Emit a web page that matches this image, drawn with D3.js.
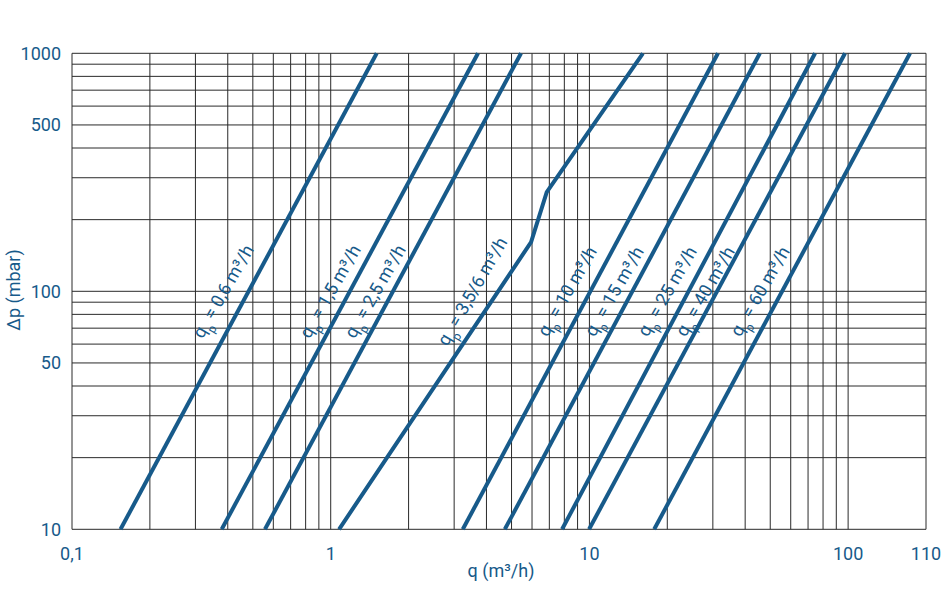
<!DOCTYPE html>
<html>
<head>
<meta charset="utf-8">
<script src="https://cdn.jsdelivr.net/npm/d3@7"></script>
<style>
  body { margin: 0; background: #fff; }
  svg text { font-family: Roboto, "Open Sans", sans-serif; fill: #175a8a; }
</style>
</head>
<body>
<div id="chart"></div>
<script>
// curve names (nominal flow qp)
const curveNames = ["0,6", "1,5", "2,5", "3,5/6", "10", "15", "25", "40", "60"];

// flow values (m3/h) read at the curve points
const curveQ = [
    [0.154, 1.506],
    [0.379, 3.71],
    [0.557, 5.44],
    [1.077, 5.95, 6.84, 16.1],
    [3.24, 31.4],
    [4.71, 45.6],
    [7.84, 74.5],
    [9.97, 97.3],
    [17.8, 173.5]
];

// pressure loss (mbar) for the same points
const curveDp = [
    [10, 1000],
    [10, 1000],
    [10, 1000],
    [10, 161, 261, 1000],
    [10, 1000],
    [10, 1000],
    [10, 1000],
    [10, 1000],
    [10, 1000]
];

// where each curve label sits (flow value at 100 mbar)
const labelQ = [0.3835, 0.994, 1.484, 3.52, 8.19, 12.45, 19.95, 27.99, 45.6];

const xTickValues = [0.1, 1, 10, 100, 200];
const xTickLabels = ["0,1", "1", "10", "100", "110"];
const yTickValues = [10, 50, 100, 500, 1000];
const yTickLabels = ["10", "50", "100", "500", "1000"];

// grid lines
const xGrid = [0.1, 0.2, 0.3, 0.4, 0.5, 0.6, 0.7, 0.8, 0.9, 1, 2, 3, 4, 5, 6, 7, 8, 9, 10,
    20, 30, 40, 50, 60, 70, 80, 90, 100, 200];
const yGrid = [10, 20, 30, 40, 50, 60, 70, 80, 90, 100, 200, 300, 400, 500, 600, 700, 800, 900, 1000];

const W = 947, H = 590;
const plot = { left: 72, right: 926, top: 53.3, bottom: 529.3 };
const blue = "#175a8a";

const x = d3.scaleLog().domain([0.1, 200]).range([plot.left, plot.right]);
const y = d3.scaleLog().domain([10, 1000]).range([plot.bottom, plot.top]);

const svg = d3.select("#chart").append("svg")
    .attr("width", W)
    .attr("height", H);

// vertical grid
svg.append("g")
    .selectAll("line")
    .data(xGrid)
    .enter().append("line")
    .attr("x1", d => x(d)).attr("x2", d => x(d))
    .attr("y1", plot.top).attr("y2", plot.bottom)
    .attr("stroke", "#2a2a2a")
    .attr("stroke-width", 1);

// horizontal grid
svg.append("g")
    .selectAll("line")
    .data(yGrid)
    .enter().append("line")
    .attr("x1", plot.left).attr("x2", plot.right)
    .attr("y1", d => y(d)).attr("y2", d => y(d))
    .attr("stroke", "#2a2a2a")
    .attr("stroke-width", 1);

// curves
const curves = curveNames.map((name, i) => ({
    name: name,
    pts: curveQ[i].map((q, j) => ({ q: q, dp: curveDp[i][j] })),
    lq: labelQ[i]
}));

const line = d3.line()
    .x(d => x(d.q))
    .y(d => y(d.dp));

svg.append("g")
    .selectAll("path")
    .data(curves)
    .enter().append("path")
    .attr("d", d => line(d.pts))
    .attr("fill", "none")
    .attr("stroke", blue)
    .attr("stroke-width", 4)
    .attr("stroke-linejoin", "round");

// curve labels
const labels = svg.append("g")
    .selectAll("text")
    .data(curves)
    .enter().append("text")
    .attr("transform", d => "translate(" + x(d.lq) + "," + y(100) + ") rotate(-60)")
    .attr("text-anchor", "middle")
    .attr("dy", "0.35em")
    .style("font-size", "18px");

labels.append("tspan").text("q");
labels.append("tspan")
    .attr("baseline-shift", "sub")
    .style("font-size", "12px")
    .text("p");
labels.append("tspan").text(d => " = " + d.name + " m³/h");

// y tick labels
svg.append("g")
    .selectAll("text")
    .data(yTickValues)
    .enter().append("text")
    .attr("x", 61)
    .attr("y", d => y(d))
    .attr("dy", "0.36em")
    .attr("text-anchor", "end")
    .style("font-size", "18px")
    .text((d, i) => yTickLabels[i]);

// x tick labels
svg.append("g")
    .selectAll("text")
    .data(xTickValues)
    .enter().append("text")
    .attr("x", d => x(d))
    .attr("y", 560)
    .attr("text-anchor", "middle")
    .style("font-size", "18px")
    .text((d, i) => xTickLabels[i]);

// axis titles
svg.append("text")
    .attr("transform", "translate(20,290) rotate(-90)")
    .attr("text-anchor", "middle")
    .style("font-size", "18px")
    .text("Δp (mbar)");

svg.append("text")
    .attr("x", 501)
    .attr("y", 577)
    .attr("text-anchor", "middle")
    .style("font-size", "18px")
    .text("q (m³/h)");
</script>
</body>
</html>
